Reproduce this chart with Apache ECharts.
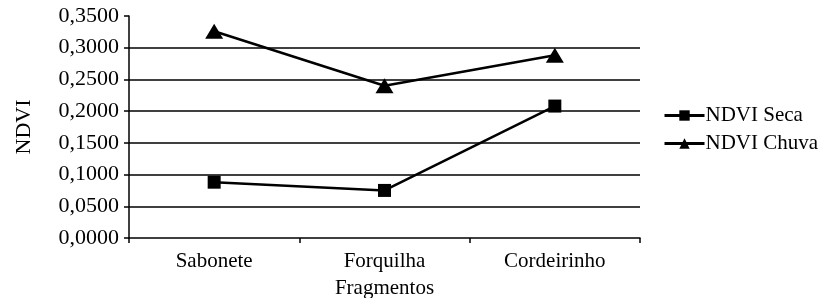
<!DOCTYPE html>
<html><head><meta charset="utf-8">
<script src="https://cdn.jsdelivr.net/npm/echarts@6/dist/echarts.min.js"></script>
<style>html,body{margin:0;padding:0;background:#fff}#c{width:824px;height:298px}</style>
</head><body><div id="c"></div>
<script>
const categories = ['Sabonete', 'Forquilha', 'Cordeirinho'];
const ndviSeca = [0.0880, 0.0750, 0.2080];
const ndviChuva = [0.3260, 0.2400, 0.2880];
const yTicks = {min: 0, max: 0.35, interval: 0.05};
const FONT = 'Liberation Serif';
const chart = echarts.init(document.getElementById('c'));
chart.setOption({
  animation: false,
  textStyle: {fontFamily: FONT, color: '#000'},
  grid: {left: 129, right: 184, top: 16, bottom: 60, outerBoundsMode: 'none'},
  legend: {
    left: 658, top: 100, orient: 'vertical', itemWidth: 40, itemHeight: 13, itemGap: 7,
    lineStyle: {width: 3, color: '#000'},
    textStyle: {fontFamily: FONT, fontSize: 21, color: '#000', padding: [0,0,0,-4]},
    data: ['NDVI Seca', 'NDVI Chuva']
  },
  xAxis: {
    type: 'category', data: categories, boundaryGap: true,
    name: 'Fragmentos', nameLocation: 'middle', nameGap: 40,
    nameTextStyle: {fontFamily: FONT, fontSize: 21, color: '#000'},
    axisLine: {lineStyle: {color: '#000', width: 1.5}},
    axisTick: {show: true, length: 5, lineStyle: {color: '#000', width: 1.5}},
    axisLabel: {fontFamily: FONT, fontSize: 21, color: '#000', margin: 13}
  },
  yAxis: {
    type: 'value', min: yTicks.min, max: yTicks.max, interval: yTicks.interval,
    name: 'NDVI', nameLocation: 'middle', nameGap: 94, nameRotate: 90,
    nameTextStyle: {fontFamily: FONT, fontSize: 22, color: '#000'},
    axisLine: {show: true, lineStyle: {color: '#000', width: 1.5}},
    axisTick: {show: true, length: 5, lineStyle: {color: '#000', width: 1.5}},
    axisLabel: {fontFamily: FONT, fontSize: 22, color: '#000', margin: 10,
      formatter: v => v.toFixed(4).replace('.', ',')},
    splitLine: {show: true, showMinLine: false, showMaxLine: false, lineStyle: {color: '#000', width: 1.5}}
  },
  series: [
    {name: 'NDVI Seca', type: 'line', data: ndviSeca, symbol: 'rect', symbolSize: 13,
     itemStyle: {color: '#000'}, lineStyle: {color: '#000', width: 2.5}},
    {name: 'NDVI Chuva', type: 'line', data: ndviChuva, symbol: 'triangle', symbolSize: [18, 15],
     itemStyle: {color: '#000'}, lineStyle: {color: '#000', width: 2.5}}
  ]
});
</script></body></html>
